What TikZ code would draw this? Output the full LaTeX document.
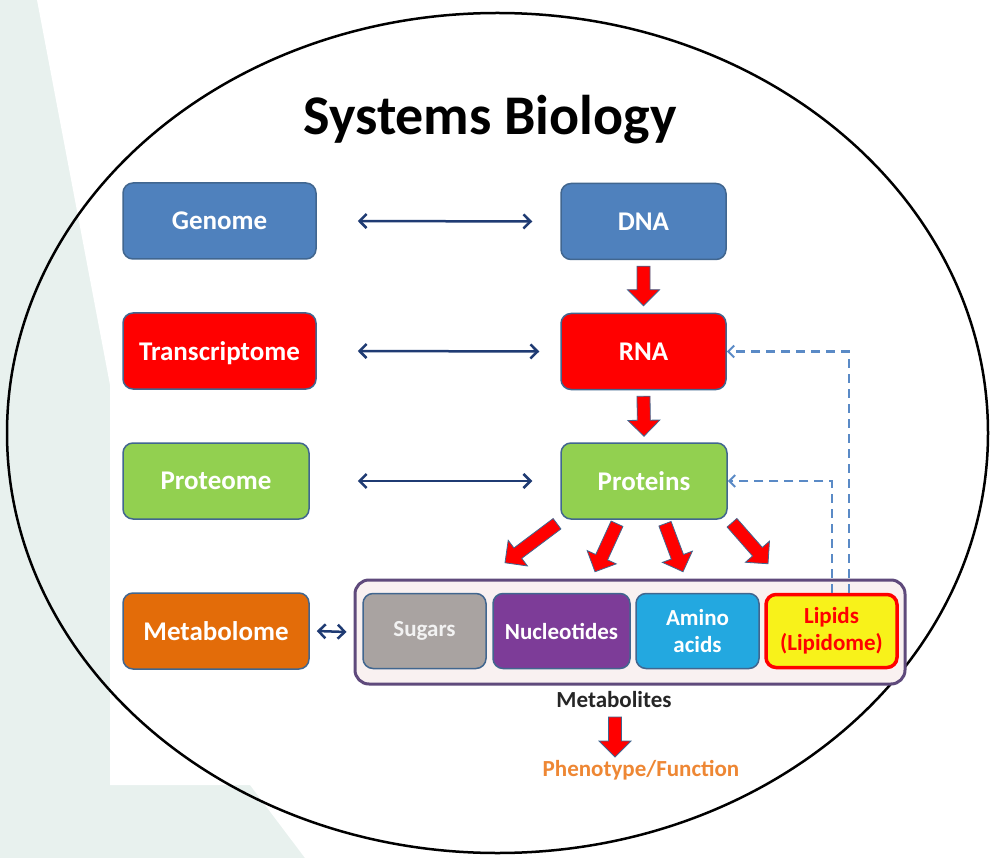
\documentclass[tikz,border=0pt]{standalone}
\usepackage{fontspec}
\setmainfont{Carlito}
\usetikzlibrary{calc,arrows.meta}

\definecolor{bgtint}{HTML}{E8F1EE}
\definecolor{boxedge}{HTML}{41668F}
\definecolor{genblue}{HTML}{4F81BD}
\definecolor{protgreen}{HTML}{92D050}
\definecolor{metorange}{HTML}{E36C09}
\definecolor{sugargray}{HTML}{A9A3A1}
\definecolor{nuclpurple}{HTML}{7D3C98}
\definecolor{aminocyan}{HTML}{23A8E0}
\definecolor{lipidyellow}{HTML}{F8F21A}
\definecolor{navy}{HTML}{1F3B73}
\definecolor{dashblue}{HTML}{5A8AC6}
\definecolor{metframe}{HTML}{5F4A7C}
\definecolor{metfill}{HTML}{F9F1F1}
\definecolor{phenoorange}{HTML}{EE8734}

% fat red arrow from #1 to #2
\newcommand{\fatarrow}[2]{%
  \coordinate (fa-t) at (#1);
  \coordinate (fa-h) at (#2);
  \coordinate (fa-b) at ($(fa-h)!16pt!(fa-t)$);
  \filldraw[fill=red, draw=boxedge, line width=0.8pt, line join=miter]
    ($(fa-t)!6.5pt!90:(fa-h)$) -- ($(fa-b)!6.5pt!90:(fa-h)$) -- ($(fa-b)!16pt!90:(fa-h)$)
    -- (fa-h) -- ($(fa-b)!16pt!-90:(fa-h)$) -- ($(fa-b)!6.5pt!-90:(fa-h)$)
    -- ($(fa-t)!6.5pt!-90:(fa-h)$) -- cycle;}

\begin{document}
\begin{tikzpicture}[x=1pt, y=-1pt,
    box/.style={draw=boxedge, line width=1.5pt, rounded corners=10pt, minimum height=76pt,
      text=white, font=\fontsize{27}{30}\selectfont\bfseries, text depth=0pt},
    metbox/.style={draw=boxedge, line width=1.5pt, rounded corners=10pt, minimum height=75pt,
      text=white, font=\fontsize{23}{27}\selectfont\bfseries, align=center, inner sep=2pt},
    biarrow/.style={navy, line width=2.5pt,
      {Straight Barb[length=7pt,width=14pt]}-{Straight Barb[length=7pt,width=14pt]}},
    feedback/.style={dashblue, line width=2pt, dash pattern=on 9pt off 6pt,
      -{Straight Barb[length=6pt,width=12pt]}}
  ]
  \useasboundingbox (0,0) rectangle (990,858);

  % slide background and the big ellipse
  \fill[bgtint] (0,0) rectangle (990,858);
  \fill[white] (37,0) -- (990,0) -- (990,858) -- (305,858) -- (250,785)
    -- (110,785) -- (110,385) -- cycle;
  \draw[line width=2.5pt] (497.5,433) ellipse [x radius=490.5pt, y radius=420pt];

  \node[font=\fontsize{56}{66}\selectfont\bfseries, anchor=base] (title) at (490,135) {Systems Biology};

  % omics levels
  \node[box, fill=genblue, minimum width=193pt] (genome) at (219.5,221) {Genome};
  \node[box, fill=red, minimum width=193pt] (transcriptome) at (219.5,351) {Transcriptome};
  \node[box, fill=protgreen, minimum width=186pt] (proteome) at (216,481) {Proteome};
  \node[box, fill=metorange, minimum width=186pt] (metabolome) at (216,631) {Metabolome};

  % molecules
  \node[box, fill=genblue, minimum width=165pt] (dna) at (643.5,221.5) {DNA};
  \node[box, fill=red, minimum width=165pt] (rna) at (643.5,351.5) {RNA};
  \node[box, fill=protgreen, minimum width=166pt] (prot) at (644,481) {Proteins};

  % metabolites
  \node[draw=metframe, fill=metfill, line width=3pt, rounded corners=14pt,
    minimum width=550pt, minimum height=104pt] (metab) at (630,632) {};
  \node[metbox, fill=sugargray, text=white!90!gray, minimum width=123pt] (sugars) at (424.5,631) {Sugars};
  \node[metbox, fill=nuclpurple, minimum width=137pt] (nucl) at (561.5,631) {Nucleotides};
  \node[metbox, fill=aminocyan, minimum width=123pt] (amino) at (697.5,631) {Amino\\acids};
  \node[metbox, fill=lipidyellow, draw=red, line width=3.5pt, text=red,
    minimum width=131pt, minimum height=73pt] (lipids) at (831.5,631) {Lipids\\(Lipidome)};

  \node[font=\fontsize{23}{27}\selectfont\bfseries, text=black!85] (metlabel) at (614,700) {Metabolites};
  \node[font=\fontsize{23}{27}\selectfont\bfseries, text=phenoorange] (pheno) at (641,770) {Phenotype/Function};

  % levels <-> molecules
  \draw[biarrow] ($(genome.east)+(41,0)$) -- ($(dna.west)+(-28,0)$);
  \draw[biarrow] ($(transcriptome.east)+(41,0)$) -- ($(rna.west)+(-21,0)$);
  \draw[biarrow] ($(proteome.east)+(48,0)$) -- ($(prot.west)+(-28,0)$);
  \draw[biarrow] ($(metabolome.east)+(7,0)$) -- ($(metab.west)+(-7,0)$);

  % flow of information
  \fatarrow{$(dna.south)+(0,6)$}{$(rna.north)+(0,-7)$}
  \fatarrow{$(rna.south)+(0,6)$}{$(prot.north)+(0,-6)$}
  \fatarrow{$(prot.south)+(-87,4)$}{$(prot.south)+(-139,43)$}
  \fatarrow{$(prot.south)+(-27,4)$}{$(prot.south)+(-49,52)$}
  \fatarrow{$(prot.south)+(21,4)$}{$(prot.south)+(39,52)$}
  \fatarrow{$(prot.south)+(88,3)$}{$(prot.south)+(124,44)$}
  \fatarrow{$(metlabel)+(1,17)$}{$(metlabel)+(1,57)$}

  % lipid feedback
  \draw[feedback] ($(lipids.north)+(17,0)$) |- (rna.east);
  \draw[feedback] (lipids.north) |- (prot.east);
\end{tikzpicture}
\end{document}
